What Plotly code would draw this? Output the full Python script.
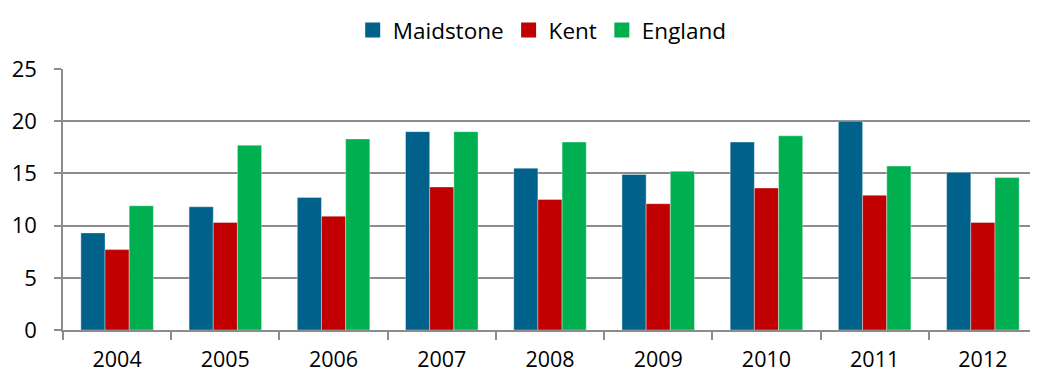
import plotly.graph_objects as go

years = ["2004", "2005", "2006", "2007", "2008", "2009", "2010", "2011", "2012"]
maidstone = [9.3, 11.8, 12.7, 19.0, 15.5, 14.9, 18.0, 20.0, 15.1]
kent = [7.7, 10.3, 10.9, 13.7, 12.5, 12.1, 13.6, 12.9, 10.3]
england = [11.9, 17.7, 18.3, 19.0, 18.0, 15.2, 18.6, 15.7, 14.6]

series = [
    ("Maidstone", maidstone, "#00618A"),
    ("Kent", kent, "#C00000"),
    ("England", england, "#00B050"),
]

fig = go.Figure()
for name, vals, col in series:
    fig.add_trace(go.Bar(
        x=years, y=vals, name=name, showlegend=False,
        marker=dict(color=col, line=dict(width=0.6, color="rgba(255,255,255,0.6)")),
    ))
# legend entries with larger square swatches, like the original
for name, vals, col in series:
    fig.add_trace(go.Scatter(
        x=[None], y=[None], name=name, mode="markers",
        marker=dict(symbol="square", size=15, color=col),
    ))

grid = "#8C8C8C"
# the page body has an 8px margin, so the figure is made 8px smaller each way
fig.update_layout(
    width=1030, height=364,
    margin=dict(l=55, r=1, t=58, b=42),
    paper_bgcolor="white", plot_bgcolor="white",
    font=dict(family="Open Sans, Liberation Sans, sans-serif", size=21, color="#000000"),
    barmode="group", bargap=0.33, bargroupgap=0,
    legend=dict(orientation="h", x=0.492, xanchor="center", y=1.148, yanchor="middle",
                font=dict(size=22.5), itemwidth=30, traceorder="normal"),
)
fig.update_xaxes(
    type="category", showline=True, linecolor=grid, linewidth=1.5,
    ticks="outside", tickson="boundaries", ticklen=8, tickcolor=grid, tickwidth=1.5,
    showgrid=False, automargin=False, ticklabelstandoff=9,
    tickfont=dict(size=21.5),
)
fig.update_yaxes(
    range=[0, 25], dtick=5, showline=True, linecolor=grid, linewidth=1.5,
    ticks="outside", ticklen=7, tickcolor=grid, tickwidth=1.5,
    showgrid=True, gridcolor=grid, gridwidth=1.5, zeroline=False,
    automargin=False, ticklabelstandoff=13, tickfont=dict(size=22),
)

fig.write_html("out.html")
